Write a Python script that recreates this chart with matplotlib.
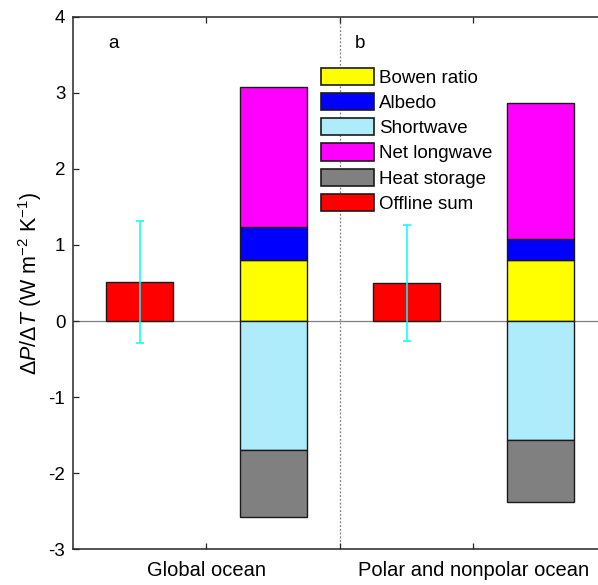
import matplotlib
matplotlib.use("Agg")
import matplotlib.pyplot as plt
from matplotlib.patches import Patch

plt.rcParams['font.family'] = ['Liberation Sans', 'DejaVu Sans']
plt.rcParams['mathtext.fontset'] = 'custom'
plt.rcParams['mathtext.rm'] = 'Liberation Sans'
plt.rcParams['mathtext.it'] = 'Liberation Sans:italic'
plt.rcParams['mathtext.default'] = 'regular'

# ---- data ----
regions = ["Global ocean", "Polar and nonpolar ocean"]
offline_sum = [0.51, 0.50]
offline_err = [0.80, 0.76]
bowen_ratio = [0.80, 0.80]
albedo = [0.44, 0.28]
net_longwave = [1.83, 1.79]
shortwave = [-1.70, -1.56]
heat_storage = [-0.87, -0.82]
panel_labels = ["a", "b"]
yticks = [-3, -2, -1, 0, 1, 2, 3, 4]

colors = {
    "Bowen ratio": "#FFFF00",
    "Albedo": "#0000FF",
    "Shortwave": "#AEEBFB",
    "Net longwave": "#FF00FF",
    "Heat storage": "#808080",
    "Offline sum": "#FF0000",
}

W, H = 598, 585
fig = plt.figure(figsize=(W / 100, H / 100), dpi=100)
left, right, top, bottom = 73, 607, 16.7, 549.3
ax = fig.add_axes([left / W, 1 - bottom / H, (right - left) / W, (bottom - top) / H])

centers = [1, 2]
bw = 0.25
ec = "#1a1a1a"
elw = 1.0
x_off = [c - 0.25 for c in centers]
x_stk = [c + 0.25 for c in centers]

ax.axhline(0, color="#808080", lw=0.9, zorder=1)
ax.axvline(1.5, color="#808080", lw=0.9, ls=(0, (1.5, 1.5)), zorder=1)

ax.bar(x_off, offline_sum, width=bw, color=colors["Offline sum"], edgecolor=ec, lw=elw, zorder=2)
ax.errorbar(x_off, offline_sum, yerr=offline_err, fmt="none", ecolor="#00FFFF",
            elinewidth=1.1, capsize=2.6, capthick=1.1, zorder=3)

pos1 = bowen_ratio
pos2 = [a + b for a, b in zip(bowen_ratio, albedo)]
ax.bar(x_stk, bowen_ratio, width=bw, color=colors["Bowen ratio"], edgecolor=ec, lw=elw, zorder=2)
ax.bar(x_stk, albedo, width=bw, bottom=pos1, color=colors["Albedo"], edgecolor=ec, lw=elw, zorder=2)
ax.bar(x_stk, net_longwave, width=bw, bottom=pos2, color=colors["Net longwave"], edgecolor=ec, lw=elw, zorder=2)
ax.bar(x_stk, shortwave, width=bw, color=colors["Shortwave"], edgecolor=ec, lw=elw, zorder=2)
ax.bar(x_stk, heat_storage, width=bw, bottom=shortwave, color=colors["Heat storage"], edgecolor=ec, lw=elw, zorder=2)

ax.set_xlim(0.5, 2.5)
ax.set_ylim(-3, 4)
ax.set_yticks(yticks)
ax.set_yticklabels([str(v) for v in yticks])
ax.set_xticks([1, 1.5, 2])
ax.set_xticklabels([regions[0], "", regions[1]])
ax.tick_params(axis="both", direction="in", length=4, width=0.9, color="#262626",
               labelsize=13.5, top=True, right=True)
ax.tick_params(axis="y", pad=5.5)
ax.tick_params(axis="x", pad=8.5, labelsize=14.5)
for s in ax.spines.values():
    s.set_color("#262626")
    s.set_linewidth(1.1)

ax.set_ylabel(r"$\Delta \mathit{P}/\Delta \mathit{T}$ (W m$^{-2}$ K$^{-1}$)", fontsize=15.5, labelpad=3)

ax.text(113 / W, 1 - 43 / H, panel_labels[0], transform=fig.transFigure, fontsize=13.5,
        ha="center", va="center")
ax.text(360 / W, 1 - 43 / H, panel_labels[1], transform=fig.transFigure, fontsize=13.5,
        ha="center", va="center")

handles = [Patch(facecolor=colors[k], edgecolor=ec, lw=1.2) for k in colors]
leg = fig.legend(handles, list(colors.keys()), loc="upper left",
                 bbox_to_anchor=(321 / W, 1 - 67.5 / H), frameon=False, fontsize=13.5,
                 borderpad=0, borderaxespad=0, handlelength=2.8, handleheight=1.05,
                 handletextpad=0.3, labelspacing=0.33)

fig.savefig("out.png", dpi=100)
